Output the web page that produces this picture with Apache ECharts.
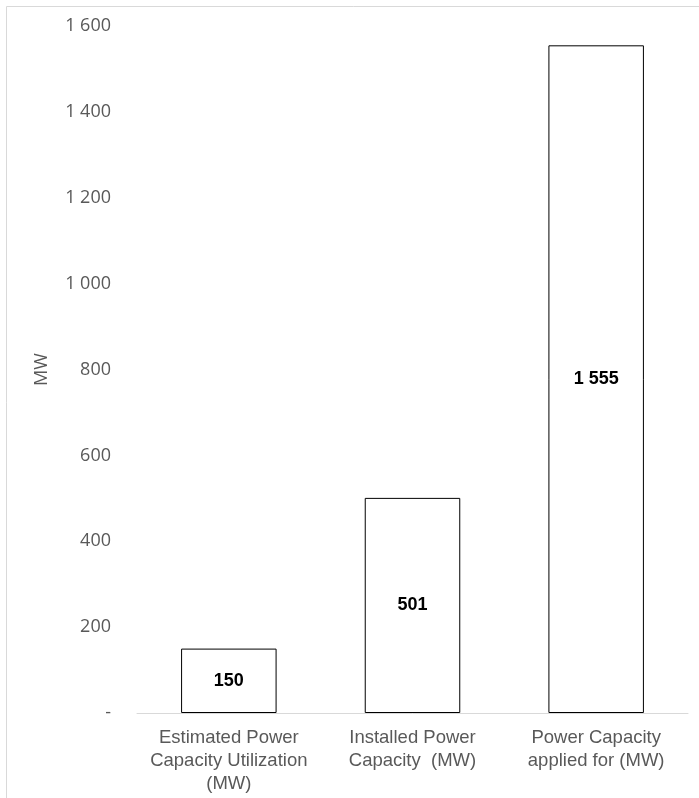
<!DOCTYPE html>
<html>
<head>
<meta charset="utf-8">
<script src="https://cdn.jsdelivr.net/npm/echarts@6/dist/echarts.min.js"></script>
<style>
html,body{margin:0;padding:0;background:#fff;}
#main{width:699px;height:798px;}
</style>
</head>
<body>
<div id="main"></div>
<script>
const categories = ['Estimated Power\nCapacity Utilization\n(MW)', 'Installed Power\nCapacity  (MW)', 'Power Capacity\napplied for (MW)'];
const values = [150, 501, 1555];
const yTicks = [0, 200, 400, 600, 800, 1000, 1200, 1400, 1600];
const yAxisName = 'MW';

function fmt(v) {
  if (v === 0) return '-';
  return String(v).replace(/\B(?=(\d{3})+(?!\d))/g, ' ');
}

const chart = echarts.init(document.getElementById('main'));
chart.setOption({
  animation: false,
  graphic: [{
    type: 'rect',
    shape: {x: 6.5, y: 6.5, width: 800, height: 900},
    style: {fill: 'none', stroke: '#d9d9d9', lineWidth: 1},
    silent: true
  }],
  grid: {left: 137, right: 11, top: 26, bottom: 85, containLabel: false},
  xAxis: {
    type: 'category',
    data: categories,
    axisLine: {lineStyle: {color: '#d9d9d9', width: 1}},
    axisTick: {show: false},
    axisLabel: {
      color: '#595959',
      fontFamily: 'Liberation Sans, Arial, sans-serif',
      fontSize: 18.5,
      lineHeight: 23,
      margin: 13,
      interval: 0
    }
  },
  yAxis: {
    type: 'value',
    min: 0,
    max: 1600,
    interval: 200,
    name: yAxisName,
    nameLocation: 'middle',
    nameGap: 86,
    nameTextStyle: {color: '#595959', fontFamily: 'Open Sans, sans-serif', fontSize: 18},
    axisLine: {show: false},
    axisTick: {show: false},
    splitLine: {show: false},
    axisLabel: {
      color: '#595959',
      fontFamily: 'Open Sans, sans-serif',
      fontSize: 18,
      margin: 26,
      formatter: function (v) { return yTicks.indexOf(v) >= 0 ? fmt(v) : ''; }
    }
  },
  series: [{
    type: 'bar',
    data: values,
    barWidth: '52%',
    itemStyle: {color: '#ffffff', borderColor: '#000000', borderWidth: 1},
    label: {
      show: true,
      position: 'inside',
      color: '#000000',
      fontWeight: 'bold',
      fontFamily: 'Liberation Sans, Arial, sans-serif',
      fontSize: 18,
      formatter: function (p) { return fmt(p.value); }
    }
  }]
});
</script>
</body>
</html>
